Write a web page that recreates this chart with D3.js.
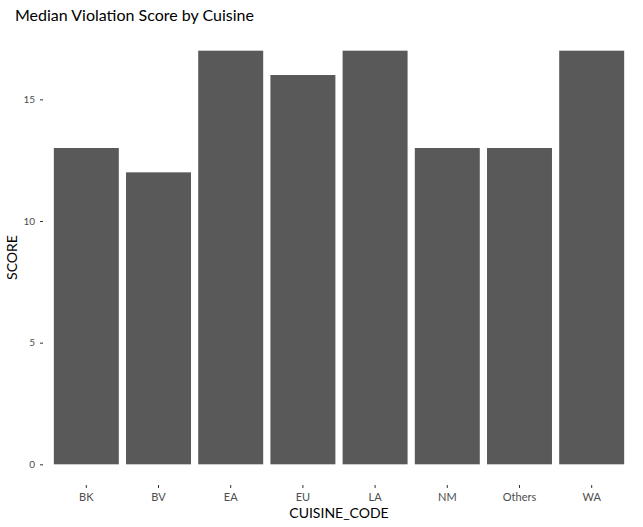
<!DOCTYPE html>
<html><head><meta charset="utf-8">
<script src="https://cdn.jsdelivr.net/npm/d3@7"></script>
<style>body{margin:0;background:#fff;} text{font-family:"Lato","Open Sans",sans-serif;}</style>
</head><body>
<svg id="c" width="643" height="527"></svg>
<script>
const categories = ["BK","BV","EA","EU","LA","NM","Others","WA"];
const scores = [13,12,17,16,17,13,13,17];
const yTicks = [0,5,10,15];

const svg = d3.select("#c");
const pLeft = 43, pRight = 635, pTop = 30, pBottom = 485;

const x = d3.scaleBand().domain(categories)
  .range([pLeft, pRight]).paddingInner(0.1).paddingOuter(0.15);
const y = d3.scaleLinear().domain([-0.85, 17.85]).range([pBottom, pTop]);

svg.selectAll("rect.bar").data(categories).join("rect")
  .attr("class","bar")
  .attr("x", d => x(d))
  .attr("width", x.bandwidth())
  .attr("y", (d,i) => y(scores[i]))
  .attr("height", (d,i) => y(0) - y(scores[i]))
  .attr("fill", "#595959");

const yAxis = d3.axisLeft(y).tickValues(yTicks).tickSize(3).tickPadding(5);
const gy = svg.append("g").attr("transform", `translate(${pLeft},0)`).call(yAxis);
gy.select(".domain").remove();
gy.selectAll(".tick line").attr("stroke", "#333").attr("stroke-width", 1);
gy.selectAll(".tick text").attr("fill", "#4d4d4d").style("font-size", "10px").style("font-family", "Lato, sans-serif");

const xAxis = d3.axisBottom(x).tickSize(3).tickPadding(5);
const gx = svg.append("g").attr("transform", `translate(0,${pBottom})`).call(xAxis);
gx.select(".domain").remove();
gx.selectAll(".tick line").attr("stroke", "#333").attr("stroke-width", 1);
gx.selectAll(".tick text").attr("fill", "#4d4d4d").style("font-size", "11px").style("font-family", "Lato, sans-serif");

svg.append("text").attr("x", 15).attr("y", 21)
  .style("font-size", "16px").attr("fill", "#000").text("Median Violation Score by Cuisine");

svg.append("text").attr("x", (pLeft+pRight)/2).attr("y", 518)
  .attr("text-anchor", "middle").style("font-size", "14px").attr("fill", "#000").text("CUISINE_CODE");

svg.append("text").attr("transform", `translate(17,${(pTop+pBottom)/2}) rotate(-90)`)
  .attr("text-anchor", "middle").style("font-size", "14px").attr("fill", "#000").text("SCORE");
</script>
</body></html>
